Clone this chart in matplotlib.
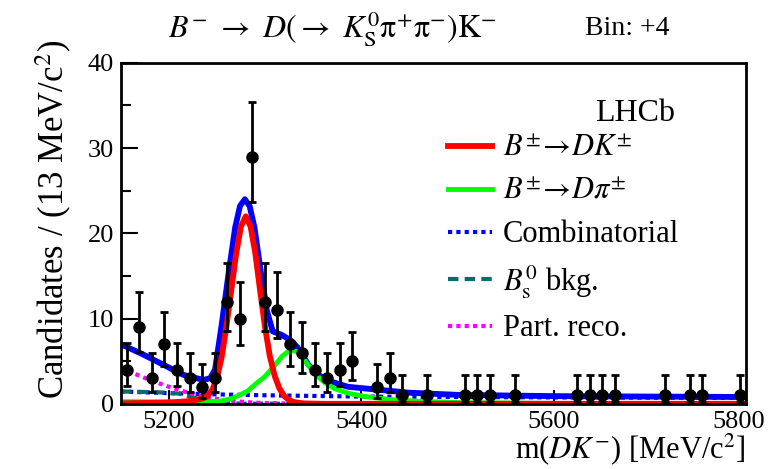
import numpy as np
import matplotlib
matplotlib.use("Agg")
import matplotlib.pyplot as plt
import matplotlib.transforms as mtransforms
from matplotlib.lines import Line2D

plt.rcParams["font.family"] = ["Liberation Serif", "DejaVu Serif"]
plt.rcParams["mathtext.fontset"] = "stix"

# data: bin centres (13 MeV bins, 5150-5800) and candidate counts
bin_edges = np.arange(5150, 5800 + 1, 13)
counts = [4, 9, 3, 7, 4, 3, 2, 3, 12, 10,
          29, 12, 11, 7, 6, 4, 3, 4, 5, 0,
          2, 3, 1, 0, 1, 0, 0, 1, 1, 1,
          0, 1, 0, 0, 0, 0, 1, 1, 1, 1,
          0, 0, 0, 1, 0, 1, 1, 0, 0, 1]

# fit curves
total_m = [5150, 5173, 5194, 5215, 5236, 5243, 5248, 5255, 5262, 5269, 5274, 5279,
           5284, 5289, 5296, 5302, 5308, 5317, 5326, 5334, 5345, 5355, 5369, 5386,
           5404, 5450, 5500, 5600, 5700, 5800]
total_y = [7.0, 5.8, 4.6, 3.4, 2.8, 3.0, 4.0, 9.3, 15.2, 20.7, 23.2, 24.0,
           23.2, 20.7, 15.2, 10.9, 8.5, 8.1, 7.5, 6.6, 4.6, 3.4, 2.6, 2.0,
           1.8, 1.3, 1.05, 0.9, 0.85, 0.8]

sig_m = [5150, 5200, 5220, 5235, 5240, 5245, 5250, 5255, 5260, 5265, 5270, 5275,
         5280, 5285, 5290, 5295, 5300, 5305, 5310, 5315, 5320, 5325, 5330, 5340,
         5360, 5800]
sig_y = [0.05, 0.15, 0.3, 0.6, 0.9, 1.6, 3.0, 5.5, 9.2, 13.4, 17.6, 20.8,
         22.0, 20.8, 17.6, 13.2, 9.0, 5.6, 3.3, 1.8, 0.9, 0.45, 0.2, 0.05,
         0.0, 0.0]

dpi_m = [5150, 5240, 5255, 5265, 5275, 5282, 5290, 5300, 5310, 5318, 5326, 5334,
         5342, 5352, 5362, 5372, 5386, 5404, 5430, 5460, 5500, 5600, 5800]
dpi_y = [0.25, 0.2, 0.35, 0.6, 1.1, 1.5, 2.3, 3.2, 4.5, 5.6, 6.3, 6.1,
         5.0, 3.5, 2.5, 1.8, 1.25, 0.85, 0.5, 0.3, 0.15, 0.05, 0.02]

comb_m = [5150, 5200, 5250, 5300, 5400, 5500, 5600, 5700, 5800]
comb_y = [1.45, 1.25, 1.1, 1.0, 0.85, 0.8, 0.75, 0.72, 0.7]

bs_m = [5150, 5190, 5210, 5227, 5244, 5260, 5280, 5800]
bs_y = [1.45, 1.35, 1.2, 0.7, 0.27, 0.08, 0.02, 0.0]

prec_m = [5150, 5165, 5180, 5200, 5220, 5240, 5260, 5280, 5300, 5330, 5800]
prec_y = [4.4, 3.5, 2.8, 2.0, 1.3, 0.75, 0.4, 0.2, 0.08, 0.02, 0.0]

centres = 0.5 * (bin_edges[:-1] + bin_edges[1:])
n = np.array(counts, dtype=float)
keep = n > 0
x = centres[keep]
nk = n[keep]
# poisson (gehrels) 68% intervals
up = np.sqrt(nk + 0.75) + 1
lo = nk - nk * (1 - 1 / (9 * nk) - 1 / (3 * np.sqrt(nk))) ** 3

fig = plt.figure(figsize=(7.69, 4.69), dpi=100)
ax = fig.add_axes([0.157, 0.139, 0.813, 0.727])

ax.plot(comb_m, comb_y, color="#0000ff", lw=3, ls=(0, (1, 1)))
ax.plot(bs_m, bs_y, color="#0b6b6b", lw=3, ls=(0, (2.5, 1.5)))
ax.plot(prec_m, prec_y, color="#ff00ff", lw=3, ls=(0, (1, 1)))
ax.plot(total_m, total_y, color="#0000ff", lw=4.2)
ax.plot(dpi_m, dpi_y, color="#00ff00", lw=3.5)
ax.plot(sig_m, sig_y, color="#ff0000", lw=4.2)

ax.errorbar(x, nk, yerr=[lo, up], fmt="o", color="black", ms=8,
            elinewidth=2, capsize=3, capthick=2, zorder=10)

ax.set_xlim(5150, 5800)
ax.set_ylim(0, 40)
ax.set_xticks([5200, 5400, 5600, 5800])
ax.set_yticks([0, 10, 20, 30, 40])
ax.set_yticks([5, 15, 25, 35], minor=True)
ax.tick_params(axis="both", which="both", direction="in", labelsize=19,
               width=1.5)
ax.tick_params(axis="y", which="major", length=12, pad=5)
ax.tick_params(axis="y", which="minor", length=7)
ax.tick_params(axis="x", which="major", length=10, pad=5)
for s in ax.spines.values():
    s.set_linewidth(2)

# keep the last x label inside the figure
last = ax.get_xticklabels()[-1]
last.set_transform(last.get_transform() +
                   mtransforms.ScaledTranslation(-5 / 72, 0, fig.dpi_scale_trans))

ax.set_xlabel(r"m($DK^{-}$) [MeV/c$^{2}$]", fontsize=22, loc="right",
              labelpad=-1)
ax.set_ylabel(r"Candidates / (13 MeV/c$^{2}$)", fontsize=25)
ax.yaxis.set_label_coords(-0.075, 0.54)

fig.text(0.218, 0.94,
         r"$B^{-}\ \rightarrow\ D(\rightarrow\ K^{0}_{\mathrm{S}}\mathrm{\pi}^{+}\mathrm{\pi}^{-})\mathrm{K}^{-}$",
         fontsize=23, va="center")
fig.text(0.761, 0.94, "Bin: +4", fontsize=20, va="center")

ax.text(0.758, 0.85, "LHCb", transform=ax.transAxes, fontsize=23,
        ha="left", va="center")

handles = [
    Line2D([], [], color="#ff0000", lw=4.2),
    Line2D([], [], color="#00ff00", lw=3.5),
    Line2D([], [], color="#0000ff", lw=3, ls=(0, (1, 1))),
    Line2D([], [], color="#0b6b6b", lw=3, ls=(0, (2.5, 1.5))),
    Line2D([], [], color="#ff00ff", lw=3, ls=(0, (1, 1))),
]
labels = [r"$B^{\pm}\!\rightarrow\!DK^{\pm}$", r"$B^{\pm}\!\rightarrow\!D\pi^{\pm}$",
          "Combinatorial", r"$B^{0}_{\mathrm{s}}$ bkg.", "Part. reco."]
ax.legend(handles, labels, loc="upper left", bbox_to_anchor=(0.504, 0.825),
          frameon=False, fontsize=22, handlelength=1.45, labelspacing=0.45,
          handletextpad=0.35, borderaxespad=0)

fig.savefig("out.png", dpi=100)
